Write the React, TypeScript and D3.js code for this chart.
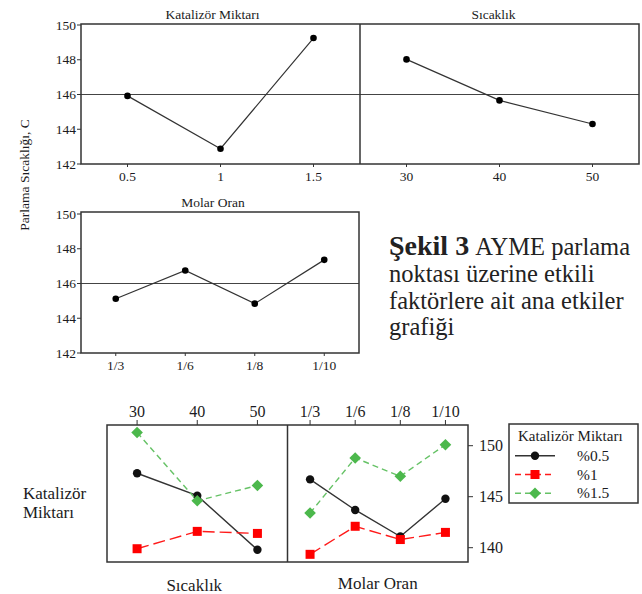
import React from "react";
import * as d3 from "d3";

// ---------- data ----------
const katalizorLevels = ["0.5", "1", "1.5"];
const katalizorMeans = [145.92, 142.88, 149.25];
const sicaklikLevels = ["30", "40", "50"];
const sicaklikMeans = [148.02, 145.66, 144.3];
const molarLevels = ["1/3", "1/6", "1/8", "1/10"];
const molarMeans = [145.12, 146.75, 144.84, 147.36];
const grandMean = 146;
const mainYTicks = [142, 144, 146, 148, 150];

const seriesNames = ["%0.5", "%1", "%1.5"];
const sicaklikByKat = [
  [147.3, 145.1, 139.8],
  [139.9, 141.6, 141.4],
  [151.3, 144.6, 146.1],
];
const molarByKat = [
  [146.7, 143.7, 141.1, 144.8],
  [139.35, 142.1, 140.8, 141.5],
  [143.4, 148.8, 147.0, 150.1],
];
const interYTicks = [140, 145, 150];

const captionBold = "Şekil 3";
const captionLines = ["AYME parlama", "noktası üzerine etkili", "faktörlere ait ana etkiler", "grafiği"];

// ---------- styles ----------
const FONT = "Liberation Serif, DejaVu Serif, serif";
const TXT = "#1b1b22";
const seriesColors = ["#111111", "#ff0000", "#4cb84c"];
const seriesLineColors = ["#333333", "#ff1a1a", "#66c266"];
const seriesDash = [null, "12,5", "6,4"];

function Marker({ kind, x, y, color }: { kind: number; x: number; y: number; color: string }) {
  if (kind === 0) return <circle cx={x} cy={y} r={4.2} fill={color} />;
  if (kind === 1) return <rect x={x - 4.5} y={y - 4.5} width={9} height={9} fill={color} />;
  const s = 5.8;
  return <path d={`M${x},${y - s}L${x + s},${y}L${x},${y + s}L${x - s},${y}Z`} fill={color} />;
}

function MainPanel({
  levels, values, x0, x1, yTop, yBottom, frameTop, title, titleDx, showYAxis,
}: {
  levels: string[]; values: number[]; x0: number; x1: number; yTop: number; yBottom: number;
  frameTop: number; title: string; titleDx: number; showYAxis: boolean;
}) {
  const x = d3.scalePoint<string>().domain(levels).range([x0, x1]).padding(0.5);
  const y = d3.scaleLinear().domain([142, 150]).range([yBottom, yTop]);
  const line = d3.line<number>().x((_, i) => x(levels[i])!).y((d) => y(d));
  return (
    <g>
      <text x={(x0 + x1) / 2 + titleDx} y={frameTop - 5} textAnchor="middle" fontSize={13.5} fill={TXT} fontFamily={FONT}>
        {title}
      </text>
      <line x1={x0} x2={x1} y1={y(grandMean)} y2={y(grandMean)} stroke="#444" strokeWidth={1} />
      <path d={line(values)!} fill="none" stroke="#333" strokeWidth={1.2} />
      {values.map((v, i) => (
        <circle key={i} cx={x(levels[i])!} cy={y(v)} r={3.3} fill="#000" />
      ))}
      {levels.map((l) => (
        <g key={l}>
          <line x1={x(l)!} x2={x(l)!} y1={yBottom} y2={yBottom + 3} stroke="#333" />
          <text x={x(l)!} y={yBottom + 17} textAnchor="middle" fontSize={13.5} fill={TXT} fontFamily={FONT}>{l}</text>
        </g>
      ))}
      {showYAxis &&
        mainYTicks.map((t) => (
          <g key={t}>
            <line x1={x0 - 4} x2={x0} y1={y(t)} y2={y(t)} stroke="#333" />
            <text x={x0 - 5} y={y(t) + 4.5} textAnchor="end" fontSize={13.5} fill={TXT} fontFamily={FONT}>{t}</text>
          </g>
        ))}
    </g>
  );
}

function InterPanel({ levels, data, x0, x1, y }: { levels: string[]; data: number[][]; x0: number; x1: number; y: d3.ScaleLinear<number, number> }) {
  const x = d3.scalePoint<string>().domain(levels).range([x0, x1]).padding(0.5);
  const line = d3.line<number>().x((_, i) => x(levels[i])!).y((d) => y(d));
  const top = 425;
  return (
    <g>
      {levels.map((l) => (
        <g key={l}>
          <line x1={x(l)!} x2={x(l)!} y1={top - 5} y2={top} stroke="#333" />
          <text x={x(l)!} y={top - 8} textAnchor="middle" fontSize={16} fill={TXT} fontFamily={FONT}>{l}</text>
        </g>
      ))}
      {data.map((vals, si) => (
        <g key={si}>
          <path
            d={line(vals)!}
            fill="none"
            stroke={seriesLineColors[si]}
            strokeWidth={1.4}
            strokeDasharray={seriesDash[si] ?? undefined}
          />
          {vals.map((v, i) => (
            <Marker key={i} kind={si} x={x(levels[i])!} y={y(v)} color={seriesColors[si]} />
          ))}
        </g>
      ))}
    </g>
  );
}

export default function App() {
  const yInter = d3.scaleLinear().domain([140, 150]).range([547.7, 445.7]);
  const iLeft = 107, iMid = 287.5, iRight = 468, iTop = 425, iBottom = 562;
  return (
    <svg width={642} height={594} fontFamily={FONT} style={{ position: "absolute", left: 0, top: 0 }}>
      <rect width={642} height={594} fill="#fff" />
      {/* Main effects: top row */}
      <MainPanel levels={katalizorLevels} values={katalizorMeans} x0={81} x1={360} yTop={25} yBottom={164}
        frameTop={24} title="Katalizör Miktarı" titleDx={-8} showYAxis={true} />
      <MainPanel levels={sicaklikLevels} values={sicaklikMeans} x0={360} x1={639} yTop={25} yBottom={164}
        frameTop={24} title="Sıcaklık" titleDx={-6} showYAxis={false} />
      <rect x={81} y={24} width={558} height={140} fill="none" stroke="#333" strokeWidth={1.5} />
      <line x1={360} x2={360} y1={24} y2={164} stroke="#333" strokeWidth={1.5} />
      {/* Molar panel */}
      <MainPanel levels={molarLevels} values={molarMeans} x0={81} x1={359} yTop={214} yBottom={353}
        frameTop={212} title="Molar Oran" titleDx={-7} showYAxis={true} />
      <rect x={81} y={212} width={278} height={141} fill="none" stroke="#333" strokeWidth={1.5} />
      <text transform="translate(29,175) rotate(-90)" textAnchor="middle" fontSize={13.5} fill={TXT} fontFamily={FONT}>
        Parlama Sıcaklığı, C
      </text>

      {/* Caption */}
      <text x={389} y={255} fill="#222" fontSize={24.5} fontFamily={FONT}>
        <tspan fontWeight="bold" fontSize={28}>{captionBold}</tspan>
        <tspan dx={6}>{captionLines[0]}</tspan>
      </text>
      {captionLines.slice(1).map((l, i) => (
        <text key={i} x={389} y={282 + i * 26.5} fill="#222" fontSize={24.5} fontFamily={FONT}>{l}</text>
      ))}

      {/* Interaction plot */}
      <InterPanel levels={sicaklikLevels} data={sicaklikByKat} x0={iLeft} x1={iMid} y={yInter} />
      <InterPanel levels={molarLevels} data={molarByKat} x0={iMid} x1={iRight} y={yInter} />
      <rect x={iLeft} y={iTop} width={iRight - iLeft} height={iBottom - iTop} fill="none" stroke="#333" strokeWidth={1.5} />
      <line x1={iMid} x2={iMid} y1={iTop} y2={iBottom} stroke="#333" strokeWidth={1.5} />
      {interYTicks.map((t) => (
        <g key={t}>
          <line x1={iRight} x2={iRight + 5} y1={yInter(t)} y2={yInter(t)} stroke="#333" />
          <text x={iRight + 11} y={yInter(t) + 5.5} fontSize={16} fill={TXT} fontFamily={FONT}>{t}</text>
        </g>
      ))}
      <text x={23} y={499} fontSize={17} fill={TXT} fontFamily={FONT}>Katalizör</text>
      <text x={23} y={518} fontSize={17} fill={TXT} fontFamily={FONT}>Miktarı</text>
      <text x={(iLeft + iMid) / 2 - 3} y={591} textAnchor="middle" fontSize={17} fill={TXT} fontFamily={FONT}>Sıcaklık</text>
      <text x={(iMid + iRight) / 2} y={589} textAnchor="middle" fontSize={17} fill={TXT} fontFamily={FONT}>Molar Oran</text>

      {/* Legend */}
      <rect x={509} y={424} width={129} height={79} fill="#fff" stroke="#333" strokeWidth={1.5} />
      <text x={518} y={441} fontSize={15} fill={TXT} fontFamily={FONT}>Katalizör Miktarı</text>
      {seriesNames.map((n, i) => {
        const yy = 455.7 + i * 18.8;
        return (
          <g key={n}>
            <line x1={515} x2={555} y1={yy} y2={yy} stroke={seriesLineColors[i]} strokeWidth={1.4}
              strokeDasharray={i === 0 ? undefined : "6,4"} />
            <Marker kind={i} x={535} y={yy} color={seriesColors[i]} />
            <text x={577} y={yy + 5} fontSize={15.5} fill={TXT} fontFamily={FONT}>{n}</text>
          </g>
        );
      })}
    </svg>
  );
}
